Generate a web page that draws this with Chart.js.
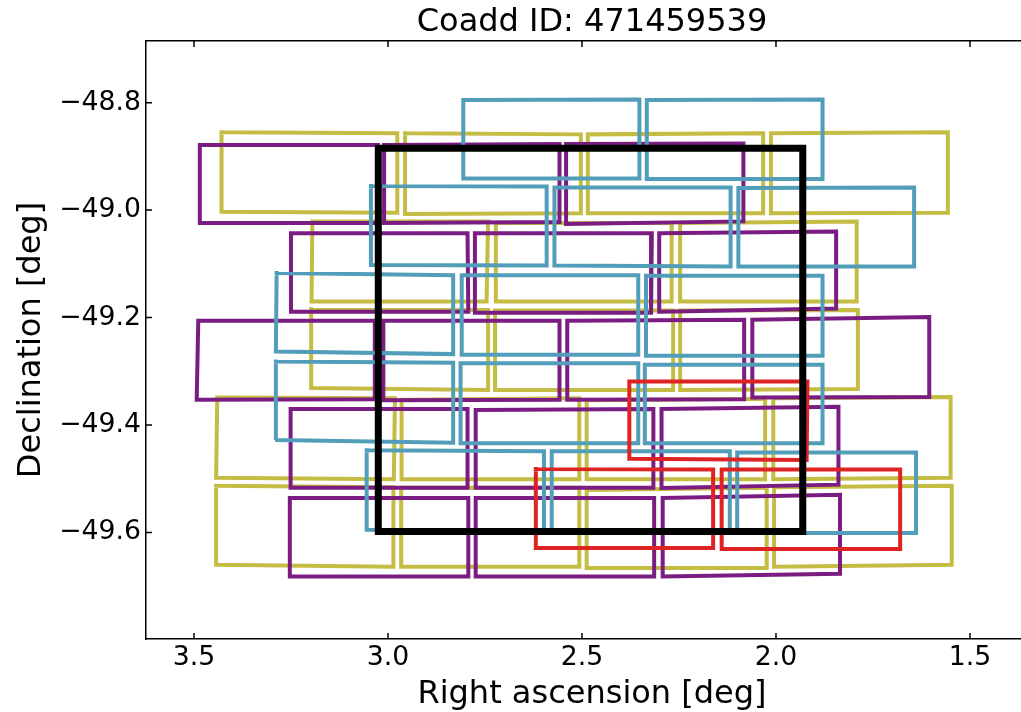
<!DOCTYPE html>
<html>
<head>
<meta charset="utf-8">
<title>Coadd ID: 471459539</title>
<script src="https://cdn.jsdelivr.net/npm/chart.js@4.4.0/dist/chart.umd.min.js"></script>
<style>
    html, body { margin: 0; padding: 0; overflow: hidden; background: #fff; }
    canvas { display: block; }
</style>
</head>
<body>
<canvas id="footprints" width="1039" height="712"></canvas>
<script>
// CCD outlines, corners as [ra, dec]: top-left, top-right, bottom-right, bottom-left
const yellowCcds = [
    [[3.429, -48.855], [2.976, -48.857], [2.976, -49.005], [3.429, -49.003]],
    [[2.956, -48.857], [2.503, -48.859], [2.503, -49.006], [2.956, -49.007]],
    [[2.485, -48.859], [2.033, -48.857], [2.033, -49.006], [2.485, -49.006]],
    [[2.013, -48.857], [1.557, -48.855], [1.557, -49.005], [2.013, -49.006]],
    [[3.195, -49.021], [2.742, -49.021], [2.746, -49.170], [3.197, -49.170]],
    [[2.722, -49.024], [2.269, -49.024], [2.269, -49.170], [2.722, -49.170]],
    [[2.247, -49.024], [1.792, -49.021], [1.792, -49.170], [2.247, -49.170]],
    [[3.198, -49.184], [2.742, -49.186], [2.742, -49.335], [3.198, -49.331]],
    [[2.724, -49.187], [2.265, -49.187], [2.265, -49.335], [2.724, -49.335]],
    [[2.247, -49.187], [1.789, -49.186], [1.789, -49.333], [2.247, -49.335]],
    [[3.440, -49.349], [2.982, -49.350], [2.985, -49.501], [3.443, -49.498]],
    [[2.965, -49.353], [2.507, -49.350], [2.507, -49.501], [2.965, -49.501]],
    [[2.488, -49.354], [2.028, -49.351], [2.028, -49.501], [2.488, -49.501]],
    [[2.007, -49.350], [1.550, -49.348], [1.550, -49.498], [2.007, -49.501]],
    [[3.443, -49.513], [2.986, -49.516], [2.986, -49.664], [3.443, -49.660]],
    [[2.966, -49.517], [2.507, -49.517], [2.507, -49.664], [2.966, -49.664]],
    [[2.488, -49.521], [2.024, -49.517], [2.024, -49.666], [2.488, -49.666]],
    [[2.005, -49.516], [1.547, -49.513], [1.547, -49.660], [2.005, -49.664]]
]
const blueCcds = [
    [[2.806, -48.795], [2.352, -48.794], [2.352, -48.941], [2.806, -48.941]],
    [[2.333, -48.795], [1.880, -48.794], [1.880, -48.942], [2.333, -48.942]],
    [[3.044, -48.955], [2.591, -48.956], [2.591, -49.103], [3.044, -49.102]],
    [[2.571, -48.958], [2.117, -48.958], [2.117, -49.105], [2.571, -49.103]],
    [[2.097, -48.959], [1.644, -48.958], [1.644, -49.105], [2.097, -49.105]],
    [[3.287, -49.117], [2.832, -49.121], [2.832, -49.268], [3.289, -49.263]],
    [[2.810, -49.121], [2.355, -49.121], [2.355, -49.269], [2.810, -49.269]],
    [[2.335, -49.122], [1.880, -49.122], [1.880, -49.271], [2.335, -49.271]],
    [[3.289, -49.282], [2.832, -49.284], [2.832, -49.433], [3.291, -49.428]],
    [[2.813, -49.285], [2.355, -49.285], [2.355, -49.434], [2.813, -49.434]],
    [[2.338, -49.288], [1.880, -49.288], [1.880, -49.434], [2.338, -49.434]],
    [[3.055, -49.447], [2.598, -49.449], [2.598, -49.597], [3.055, -49.595]],
    [[2.578, -49.449], [2.119, -49.449], [2.119, -49.597], [2.578, -49.597]],
    [[2.100, -49.451], [1.639, -49.451], [1.639, -49.601], [2.100, -49.601]]
]
const purpleCcds = [
    [[3.485, -48.879], [3.026, -48.879], [3.026, -49.024], [3.485, -49.024]],
    [[3.010, -48.879], [2.558, -48.877], [2.558, -49.022], [3.010, -49.024]],
    [[2.541, -48.877], [2.084, -48.876], [2.084, -49.021], [2.541, -49.026]],
    [[3.250, -49.043], [2.795, -49.043], [2.793, -49.189], [3.250, -49.189]],
    [[2.776, -49.043], [2.320, -49.043], [2.322, -49.191], [2.776, -49.191]],
    [[2.301, -49.043], [1.845, -49.040], [1.845, -49.183], [2.299, -49.189]],
    [[3.489, -49.206], [3.034, -49.206], [3.034, -49.352], [3.493, -49.353]],
    [[3.012, -49.206], [2.558, -49.206], [2.558, -49.353], [3.012, -49.354]],
    [[2.538, -49.206], [2.082, -49.204], [2.082, -49.352], [2.538, -49.353]],
    [[2.061, -49.204], [1.605, -49.199], [1.605, -49.348], [2.061, -49.349]],
    [[3.251, -49.370], [2.795, -49.370], [2.795, -49.517], [3.251, -49.517]],
    [[2.774, -49.372], [2.316, -49.370], [2.316, -49.517], [2.774, -49.517]],
    [[2.295, -49.370], [1.839, -49.366], [1.839, -49.511], [2.295, -49.517]],
    [[3.253, -49.536], [2.793, -49.536], [2.793, -49.682], [3.253, -49.682]],
    [[2.774, -49.536], [2.314, -49.536], [2.314, -49.682], [2.774, -49.682]],
    [[2.292, -49.536], [1.835, -49.530], [1.835, -49.677], [2.292, -49.682]]
]
const redCcds = [
    [[2.378, -49.319], [1.919, -49.319], [1.921, -49.465], [2.378, -49.463]],
    [[2.619, -49.482], [2.162, -49.483], [2.162, -49.629], [2.619, -49.629]],
    [[2.140, -49.483], [1.680, -49.483], [1.680, -49.631], [2.140, -49.631]]
]
const tileBounds = [[3.025, -48.885], [1.931, -48.885], [1.931, -49.598], [3.025, -49.598]]

const xTicks = [3.5, 3.0, 2.5, 2.0, 1.5]
const yTicks = [-48.8, -49.0, -49.2, -49.4, -49.6]
const raRange = [1.3247, 3.6237]
const decRange = [-49.7983, -48.6852]

const font = 'DejaVu Sans'

function outline(quad, color, width) {
    return {
        data: [...quad, quad[0]].map(([x, y]) => ({ x, y })),
        showLine: true,
        fill: false,
        pointRadius: 0,
        borderColor: color,
        borderWidth: width,
        borderJoinStyle: 'miter',
        borderCapStyle: 'square'
    }
}

// first dataset ends up on top
const datasets = [outline(tileBounds, '#000000', 7)]
    .concat(redCcds.map(q => outline(q, '#de2323', 4)))
    .concat(blueCcds.map(q => outline(q, '#529dba', 4)))
    .concat(purpleCcds.map(q => outline(q, '#7a1c82', 4)))
    .concat(yellowCcds.map(q => outline(q, '#c5bc44', 4)))

// matplotlib-style ticks pointing into the frame
const innerTicks = {
    id: 'innerTicks',
    afterDraw(chart) {
        const { ctx, chartArea: a, scales: { x, y } } = chart
        ctx.save()
        ctx.strokeStyle = '#000'
        ctx.lineWidth = 1.5
        ctx.beginPath()
        xTicks.forEach(v => {
            const px = x.getPixelForValue(v)
            ctx.moveTo(px, a.bottom); ctx.lineTo(px, a.bottom - 6)
            ctx.moveTo(px, a.top); ctx.lineTo(px, a.top + 6)
        })
        yTicks.forEach(v => {
            const py = y.getPixelForValue(v)
            ctx.moveTo(a.left, py); ctx.lineTo(a.left + 6, py)
            ctx.moveTo(a.right, py); ctx.lineTo(a.right - 6, py)
        })
        ctx.stroke()
        ctx.restore()
    }
}

const frame = { display: true, color: '#000', width: 1.5 }
const noGrid = { display: false, drawTicks: false, tickLength: 0 }

new Chart(document.getElementById('footprints'), {
    type: 'scatter',
    data: { datasets },
    plugins: [innerTicks],
    options: {
        responsive: false,
        animation: false,
        devicePixelRatio: 1,
        layout: { padding: 0 },
        plugins: { legend: { display: false }, tooltip: { enabled: false } },
        scales: {
            x: {
                type: 'linear', position: 'bottom', reverse: true,
                min: raRange[0], max: raRange[1],
                grid: noGrid, border: frame,
                afterBuildTicks: s => { s.ticks = xTicks.map(value => ({ value })) },
                afterFit: s => { s.height = 73 },
                ticks: {
                    color: '#000', padding: 3, maxRotation: 0, autoSkip: false,
                    font: { family: font, size: 26.7, lineHeight: 1.2 },
                    callback: v => v.toFixed(1)
                },
                title: {
                    display: true, text: 'Right ascension [deg]', color: '#000',
                    font: { family: font, size: 32, lineHeight: 1 },
                    padding: { top: 0, bottom: 1 }
                }
            },
            x2: {
                type: 'linear', position: 'top', reverse: true,
                min: raRange[0], max: raRange[1],
                grid: noGrid, border: frame,
                ticks: { display: false },
                afterFit: s => { s.height = 41 },
                title: {
                    display: true, text: 'Coadd ID: 471459539', color: '#000',
                    font: { family: font, size: 32, lineHeight: 1 },
                    padding: { top: 7, bottom: 0 }
                }
            },
            y: {
                type: 'linear', position: 'left',
                min: decRange[0], max: decRange[1],
                grid: noGrid, border: frame,
                afterBuildTicks: s => { s.ticks = yTicks.map(value => ({ value })) },
                afterFit: s => { s.width = 146 },
                ticks: {
                    color: '#000', padding: 5, autoSkip: false,
                    font: { family: font, size: 26.7, lineHeight: 1.2 },
                    callback: v => (v < 0 ? '\u2212' : '') + Math.abs(v).toFixed(1)
                },
                title: {
                    display: true, text: 'Declination [deg]', color: '#000',
                    font: { family: font, size: 32, lineHeight: 1 },
                    padding: { top: 16, bottom: 0 }
                }
            },
            y2: {
                type: 'linear', position: 'right',
                min: decRange[0], max: decRange[1],
                grid: noGrid, border: frame,
                ticks: { display: false },
                afterFit: s => { s.width = 1 }
            }
        }
    }
})
</script>
</body>
</html>
